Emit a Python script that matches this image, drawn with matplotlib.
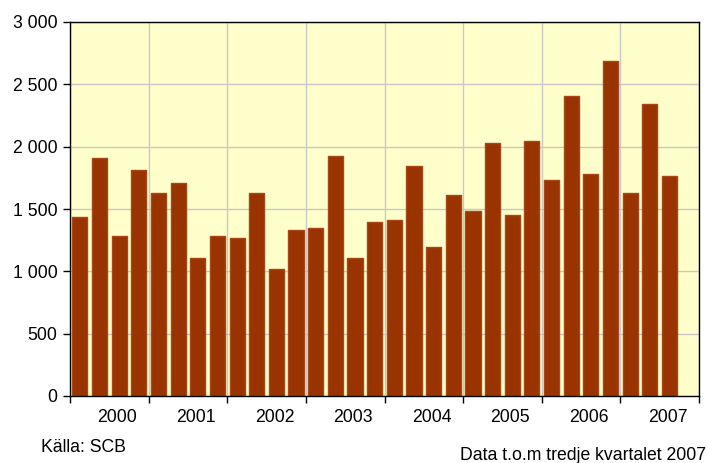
import matplotlib
matplotlib.use("Agg")
import matplotlib.pyplot as plt
import numpy as np

years = ["2000", "2001", "2002", "2003", "2004", "2005", "2006", "2007"]
values = [1438, 1906, 1281, 1810, 1626, 1706, 1109, 1283,
          1267, 1626, 1016, 1331, 1345, 1925, 1109, 1393,
          1409, 1845, 1193, 1610, 1484, 2032, 1454, 2045,
          1735, 2406, 1781, 2685, 1626, 2342, 1767]
yticks = [0, 500, 1000, 1500, 2000, 2500, 3000]
ytick_labels = ["0", "500", "1 000", "1 500", "2 000", "2 500", "3 000"]

plt.rcParams['font.family'] = ['Liberation Sans', 'DejaVu Sans']
FS = 12.7

fig = plt.figure(figsize=(7.08, 4.63), dpi=100)
ax = fig.add_axes([70/708, 1-396/463, 629/708, 374/463])
ax.set_facecolor('#FFFFCC')

x = np.arange(len(values)) + 0.5
ax.bar(x, values, width=0.77, color='#993300', edgecolor='#A8461A',
       linewidth=1.0, joinstyle='round', zorder=3)

nslots = 4 * len(years)
ax.set_xlim(0, nslots)
ax.set_ylim(0, 3000)

ax.set_yticks(yticks)
ax.set_yticklabels(ytick_labels, fontsize=FS)
ax.set_xticks(np.arange(0, nslots + 1, 4))
ax.set_xticklabels([])
ax.set_xticks(np.arange(len(years)) * 4 + 2.4, minor=True)
ax.set_xticklabels(years, minor=True, fontsize=FS)
ax.tick_params(axis='x', which='minor', length=0, pad=9)
ax.tick_params(axis='x', which='major', length=5, width=1, direction='out')
ax.tick_params(axis='y', length=5, width=1, direction='out', pad=4)

ax.grid(True, which='major', color='#C8C8C8', linewidth=1.0, zorder=0)
ax.set_axisbelow(True)
for s in ax.spines.values():
    s.set_color('black')
    s.set_linewidth(1.0)
    s.set_zorder(4)

fig.text(41/708, 1-447/463, "Källa: SCB", fontsize=FS, va='center', ha='left')
fig.text(706/708, 1-455/463, "Data t.o.m tredje kvartalet 2007", fontsize=FS,
         va='center', ha='right')

fig.savefig("out.png", dpi=100)
